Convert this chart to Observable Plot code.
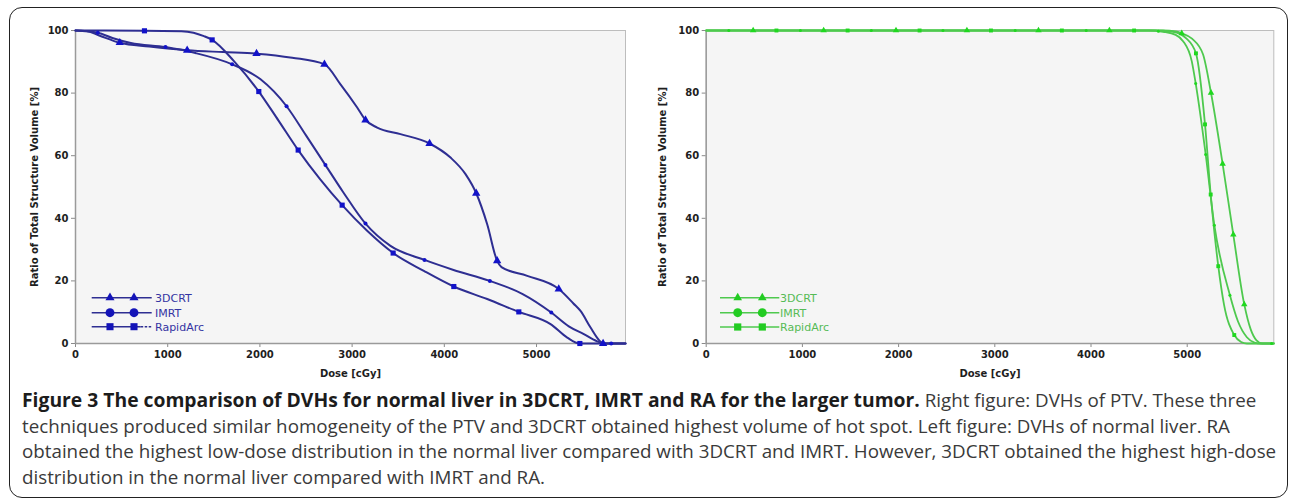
<!DOCTYPE html>
<html><head><meta charset="utf-8">
<script src="https://cdn.jsdelivr.net/npm/d3@7"></script>
<script src="https://cdn.jsdelivr.net/npm/@observablehq/plot@0.6"></script>
<style>
html,body{margin:0;padding:0;background:#fff;}
#page{position:relative;width:1290px;height:501px;overflow:hidden;background:#fff;}
.abs{position:absolute;}
#frame{position:absolute;left:9px;top:7px;width:1277px;height:489px;border:1.6px solid #222;border-radius:13px;pointer-events:none;}
</style></head><body>
<div id="page">
  <div id="left" class="abs" style="left:0;top:0"></div>
  <div id="right" class="abs" style="left:640px;top:0"></div>
  <svg id="overlay" class="abs" style="left:0;top:0" width="1290" height="501"></svg>
  <div id="frame"></div>
</div>
<script>
// ---------- data ----------
const series = ["3DCRT", "IMRT", "RapidArc"];
const xTicks = [0, 1000, 2000, 3000, 4000, 5000];
const yTicks = [0, 20, 40, 60, 80, 100];
const xLabel = "Dose [cGy]";
const yLabel = "Ratio of Total Structure Volume [%]";

// Left figure: normal liver  [dose cGy, volume %]
const liver3DCRTCurve = [[0,100],[120,99.8],[250,98.5],[480,96.1],[800,94.9],[1211,93.7],[1600,93.1],[1963,92.6],[2350,91.3],[2700,89.2],[2874,82.8],[3055,75.4],[3145,71.4],[3272,69.0],[3525,66.9],[3840,63.9],[4067,59.4],[4230,54.1],[4346,48.0],[4465,38.1],[4573,26.4],[4620,24.4],[4899,21.6],[5241,17.4],[5400,12.8],[5477,10.4],[5586,5.1],[5680,1.0],[5722,0],[5965,0]];
const liver3DCRTMarks = [[480,96.1],[1211,93.7],[1963,92.6],[2700,89.2],[3145,71.4],[3840,63.9],[4346,48.0],[4573,26.4],[5241,17.4],[5722,0]];
const liverIMRTCurve = [[0,100],[242,99.3],[400,97.6],[600,96.0],[976,94.7],[1300,92.8],[1699,89.2],[2007,84.4],[2289,75.8],[2500,66.5],[2711,57.0],[2900,48.5],[3145,38.3],[3416,31.2],[3785,26.7],[4100,23.5],[4494,20.0],[4850,15.8],[5160,9.9],[5350,5.5],[5513,3.0],[5650,0.8],[5750,0],[5965,0]];
const liverIMRTMarks = [[242,99.3],[976,94.7],[1699,89.2],[2289,75.8],[2711,57.0],[3145,38.3],[3785,26.7],[4494,20.0],[5160,9.9],[5810,0]];
const liverRACurve = [[0,100],[748,99.9],[1150,99.8],[1280,99.3],[1393,98.2],[1482,97.0],[1716,90.3],[1988,80.5],[2200,71.3],[2415,61.8],[2650,52.6],[2892,44.2],[3163,36.0],[3445,28.9],[3778,23.2],[4103,18.2],[4465,14.2],[4808,10.1],[5152,6.2],[5333,1.9],[5470,0],[5965,0]];
const liverRAMarks = [[748,99.9],[1482,97.0],[1988,80.5],[2415,61.8],[2892,44.2],[3445,28.9],[4103,18.2],[4808,10.1],[5470,0]];

// Right figure: PTV
const ptv3DCRTCurve = [[0,100],[4750,100],[4880,99.7],[4943,99.1],[5050,97.4],[5164,92.4],[5247,80.1],[5368,57.4],[5479,34.8],[5593,12.5],[5660,4.5],[5720,1.0],[5780,0],[5900,0]];
const ptv3DCRTMarks = [[488,100],[1221,100],[1973,100],[2710,100],[3454,100],[4191,100],[4943,99.1],[5247,80.1],[5368,57.4],[5479,34.8],[5593,12.5]];
const ptvIMRTCurve = [[0,100],[4600,100],[4750,99.6],[4880,98.6],[4957,96.6],[5047,90.2],[5088,83.1],[5192,60.4],[5282,37.8],[5444,15.4],[5527,7.1],[5620,2.0],[5700,0.3],[5760,0],[5900,0]];
const ptvIMRTMarks = [[235,100],[979,100],[1716,100],[2461,100],[3212,100],[3950,100],[4700,99.8],[5088,83.1],[5192,60.4],[5282,37.8],[5444,15.4],[5877,0]];
const ptvRACurve = [[0,100],[4650,100],[4850,99.6],[4990,97.5],[5091,92.7],[5185,70.0],[5244,47.6],[5323,24.7],[5382,12.5],[5489,2.7],[5560,0.5],[5620,0],[5900,0]];
const ptvRAMarks = [[730,100],[1470,100],[2218,100],[2960,100],[3697,100],[4448,100],[5091,92.7],[5185,70.0],[5244,47.6],[5323,24.7],[5489,2.7]];

const captionBold = "Figure 3 The comparison of DVHs for normal liver in 3DCRT, IMRT and RA for the larger tumor.";
const captionLines = [
  "Right figure: DVHs of PTV. These three",
  "techniques produced similar homogeneity of the PTV and 3DCRT obtained highest volume of hot spot. Left figure: DVHs of normal liver. RA",
  "obtained the highest low-dose distribution in the normal liver compared with 3DCRT and IMRT. However, 3DCRT obtained the highest high-dose",
  "distribution in the normal liver compared with IMRT and RA."
];

// ---------- drawing ----------
const plotSymbols = ["triangle", "circle", "square"];
const d3Symbols = [d3.symbolTriangle, d3.symbolCircle, d3.symbolSquare];

function rows(list) {
  return series.flatMap((s, i) => list[i].map(([dose, vol]) => ({series: s, dose, vol})));
}

function makeChart(o) {
  const lineRows = rows(o.curves);
  const markRows = rows(o.marks);
  return Plot.plot({
    width: o.width, height: 385,
    marginLeft: o.marginLeft, marginRight: o.marginRight, marginTop: 30, marginBottom: 42,
    x: {domain: [0, o.xMax]},
    y: {domain: [0, 100]},
    style: {fontFamily: "DejaVu Sans", fontSize: "10px", fontWeight: "bold", background: "transparent", color: "#1e1e1e", overflow: "visible"},
    marks: [
      Plot.frame({fill: "#f5f5f5"}),
      Plot.frame({stroke: "#bdbdbd"}),
      Plot.axisX({ticks: xTicks, tickFormat: d => String(d), tickSize: 4, tickPadding: 3, stroke: "#8a8a8a",
        label: xLabel, labelAnchor: "center", labelOffset: 33, labelArrow: "none"}),
      Plot.axisY({ticks: yTicks, tickFormat: d => String(d), tickSize: 4, tickPadding: 3, stroke: "#8a8a8a",
        label: yLabel, labelAnchor: "center", labelOffset: o.yLabelOffset, labelArrow: "none"}),
      Plot.ruleX([0], {stroke: "#9a9a9a", strokeWidth: 1.5}),
      Plot.ruleY([0], {stroke: "#9a9a9a", strokeWidth: 1.5}),
      Plot.line(lineRows, {x: "dose", y: "vol", z: "series", stroke: o.lineColor, strokeWidth: o.lineWidth, curve: "monotone-x"}),
      ...series.map((s, i) => Plot.dot(markRows.filter(d => d.series === s),
        {x: "dose", y: "vol", symbol: plotSymbols[i], r: o.sizes[i], fill: o.markColor, stroke: "none"}))
    ]
  });
}

document.getElementById("left").append(makeChart({
  curves: [liver3DCRTCurve, liverIMRTCurve, liverRACurve],
  marks: [liver3DCRTMarks, liverIMRTMarks, liverRAMarks],
  width: 640, marginLeft: 75, marginRight: 15, xMax: 5965, yLabelOffset: 45,
  lineColor: "#2e2e92", lineWidth: 2, markColor: "#1212c8", sizes: [3.1, 2.0, 2.9]
}));

document.getElementById("right").append(makeChart({
  curves: [ptv3DCRTCurve, ptvIMRTCurve, ptvRACurve],
  marks: [ptv3DCRTMarks, ptvIMRTMarks, ptvRAMarks],
  width: 650, marginLeft: 65.7, marginRight: 16.7, xMax: 5900, yLabelOffset: 47,
  lineColor: "#4ec94e", lineWidth: 1.8, markColor: "#1fd81f", sizes: [2.4, 1.5, 2.2]
}));

const overlay = d3.select("#overlay");

function legend(o) {
  const g = overlay.append("g");
  series.forEach((s, i) => {
    const y = o.rows[i];
    const solidEnd = (o.dashTail && i === 2) ? o.x1 - 11 : o.x1;
    g.append("line").attr("x1", o.x0).attr("x2", solidEnd).attr("y1", y).attr("y2", y)
      .attr("stroke", o.lineColor).attr("stroke-width", 1.5);
    if (solidEnd !== o.x1) {
      g.append("line").attr("x1", solidEnd).attr("x2", o.x1).attr("y1", y).attr("y2", y)
        .attr("stroke", o.lineColor).attr("stroke-width", 1.5).attr("stroke-dasharray", "2.5,1.5");
    }
    [o.m1, o.m2].forEach(mx => {
      g.append("path").attr("d", d3.symbol(d3Symbols[i], o.areas[i])())
        .attr("transform", `translate(${mx},${y})`).attr("fill", o.markColor);
    });
    g.append("text").attr("x", o.tx).attr("y", y).attr("dy", "0.36em")
      .attr("font-family", "DejaVu Sans").attr("font-size", 11).attr("fill", o.textColor).text(s);
  });
}

legend({x0: 91.7, x1: 151.7, m1: 110, m2: 134, tx: 155, rows: [297.7, 312.7, 326.7], dashTail: true,
  lineColor: "#2e2e92", markColor: "#1414b8", textColor: "#3434a2", areas: [36, 62, 50]});
legend({x0: 720, x1: 779.3, m1: 737.7, m2: 762.3, tx: 780, rows: [297.7, 312.7, 327], dashTail: false,
  lineColor: "#4ec94e", markColor: "#22cc22", textColor: "#55bb55", areas: [32, 62, 52]});

// ---------- caption (font sizes calibrated so the text reaching x=650 in the reference matches) ----------
const cap = overlay.append("g").attr("font-family", "Open Sans");
function measure(txt, weight) {
  const t = cap.append("text").attr("font-size", 20).attr("font-weight", weight).text(txt);
  const w = t.node().getComputedTextLength();
  t.remove();
  return w;
}
const capLeft = 22;
const boldSize = 1.016 * 20 * 628 / measure("Figure 3 The comparison of DVHs for normal liver in 3DCRT, IMRT a", "bold");
const regSize = 1.008 * 20 * 628 / ((measure("techniques produced similar homogeneity of the PTV and 3DCRT obtaine", "normal") +
                            measure("obtained the highest low-dose distribution in the normal liver compared", "normal")) / 2);
const baselines = [407, 432.8, 458.4, 484];
const boldText = cap.append("text").attr("x", capLeft).attr("y", baselines[0])
  .attr("font-size", boldSize).attr("font-weight", "bold").attr("fill", "#1c1c1c").text(captionBold);
const boldEnd = capLeft + boldText.node().getComputedTextLength();
captionLines.forEach((t, i) => {
  cap.append("text").attr("x", i === 0 ? boldEnd + regSize * 0.26 : capLeft).attr("y", baselines[i])
    .attr("font-size", regSize).attr("fill", "#3a3a3a").text(t);
});
</script>
</body></html>
